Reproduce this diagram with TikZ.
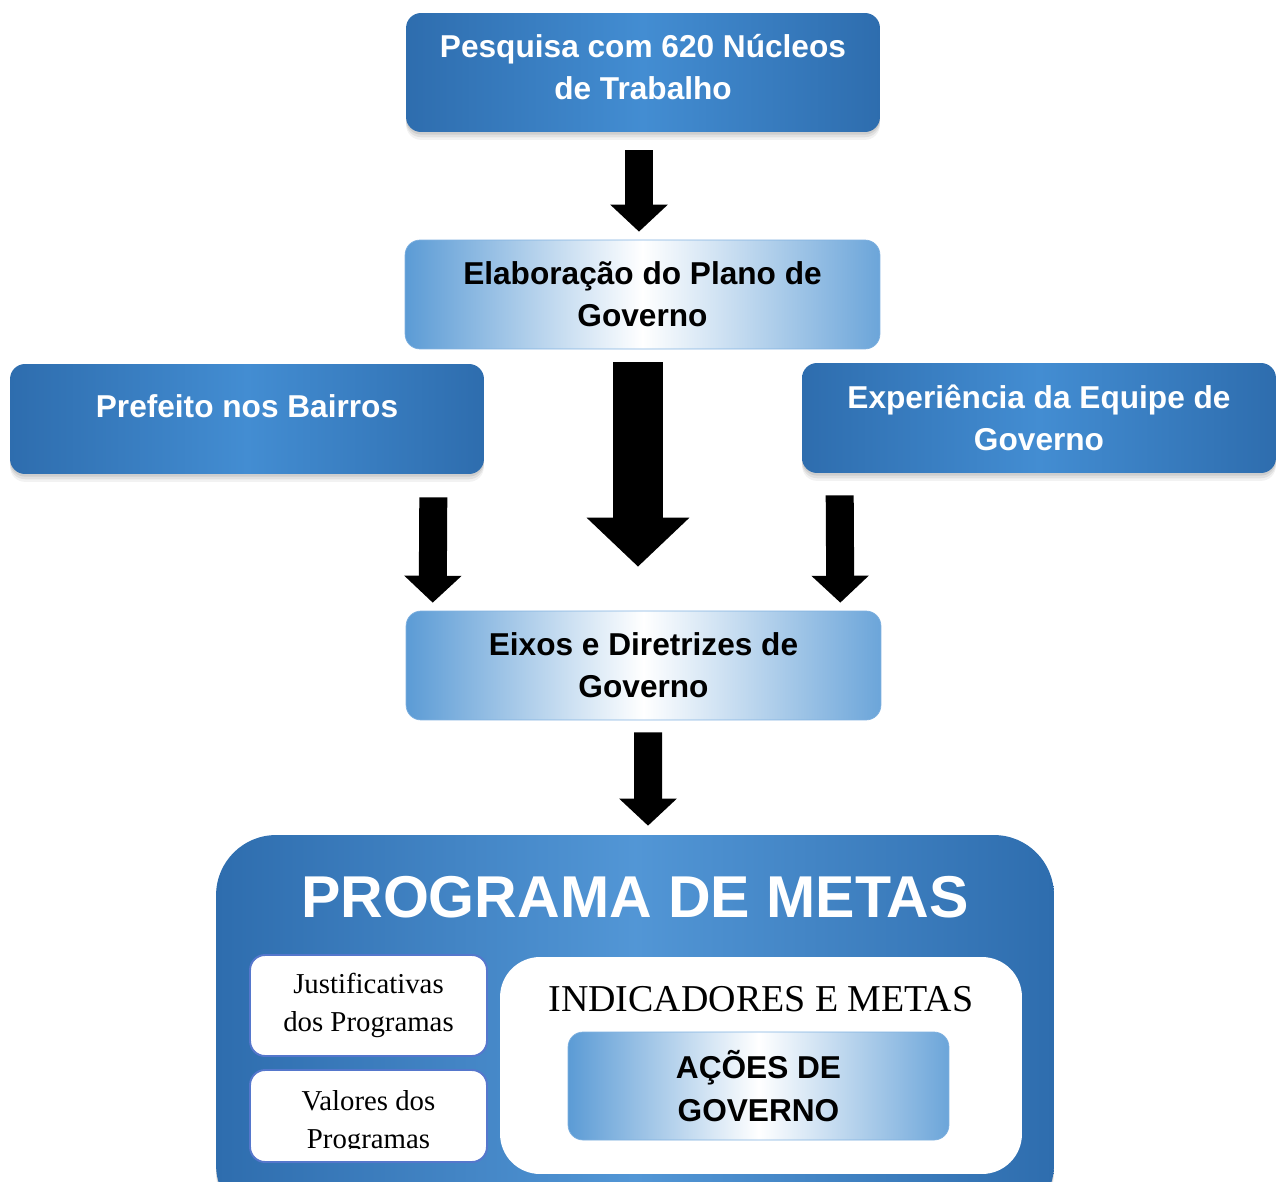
\documentclass[tikz,border=0pt]{standalone}
\usepackage{fontspec}
\setmainfont{Liberation Serif}
\setsansfont{Liberation Sans}
\usetikzlibrary{positioning}
\usetikzlibrary{arrows.meta,shadows,calc}

\definecolor{boxdark}{HTML}{2E6DAE}
\definecolor{boxmid}{HTML}{438DD2}
\definecolor{fadeblue}{HTML}{5B9BD5}
\definecolor{fadeline}{HTML}{7FB1E0}
\definecolor{smallline}{HTML}{5577CC}

\begin{document}
\begin{tikzpicture}[x=0.02cm,y=-0.02cm,
  softshadow/.style={drop shadow={shadow xshift=0pt, shadow yshift=-4.5pt, opacity=.1},
    drop shadow={shadow xshift=0pt, shadow yshift=-3pt, opacity=.15},
    drop shadow={shadow xshift=0pt, shadow yshift=-1.5pt, opacity=.2}},
  bluebox/.style={rounded corners=0.3cm, left color=boxdark, right color=boxdark, middle color=boxmid,
    minimum width=9.48cm, minimum height=2.2cm, align=center, text=white,
    font=\sffamily\bfseries\fontsize{18pt}{24pt}\selectfont, softshadow},
  fadebox/.style={rounded corners=0.3cm, draw=fadeline, left color=fadeblue, right color=fadeblue!90, middle color=white,
    minimum width=9.5cm, minimum height=2.18cm, align=center,
    font=\sffamily\bfseries\fontsize{18pt}{24pt}\selectfont},
  smallbox/.style={rounded corners=0.3cm, draw=smallline, line width=1.1pt, fill=white,
    minimum width=4.74cm, align=center, font=\fontsize{16.4pt}{21.6pt}\selectfont},
  blockarrow/.style={line width=0.56cm, -{Triangle[length=0.54cm,width=1.12cm]}},
  bigarrow/.style={line width=1cm, -{Triangle[length=0.98cm,width=2cm]}}]

\useasboundingbox (0,0) rectangle (1277,1182);

\node[bluebox, minimum height=2.38cm, text depth=6pt] (pesquisa) at (643,72.5) {Pesquisa com 620 Núcleos\\de Trabalho};
\node[fadebox] (plano) at (642.5,294.5) {Elaboração do Plano de\\Governo};
\node[bluebox, text depth=15pt] (bairros) at (247,419) {Prefeito nos Bairros};
\node[bluebox] (equipe) at (1039,418) {Experiência da Equipe de\\Governo};
\node[fadebox] (eixos) at (643.5,665.5) {Eixos e Diretrizes de\\Governo};

% bottom block
\node[rounded corners=1.2cm, left color=boxdark, right color=boxdark, middle color=boxmid!92,
  minimum width=16.76cm, minimum height=7.8cm, softshadow] (programa) at (635,1030) {};
\node[font=\sffamily\bfseries\fontsize{33.6pt}{36pt}\selectfont, text=white] (titulo) at (635,897) {PROGRAMA DE METAS};
\node[smallbox, minimum height=2.02cm] (justif) at (368.5,1005.5) {Justificativas\\dos Programas};
\node[smallbox, minimum height=1.84cm] (valores) at (368.5,1116) {};
\begin{scope}
\clip (valores.north west) rectangle ($(valores.south east)+(0,-14)$);
\node[align=center, font=\fontsize{16.4pt}{21.6pt}\selectfont] (valtxt) at (368.5,1123) {Valores dos\\Programas};
\end{scope}
\node[rounded corners=0.8cm, fill=white, minimum width=10.44cm, minimum height=4.34cm] (indic) at (761,1065.5) {};
\node[font=\fontsize{21.6pt}{24pt}\selectfont] (indtit) at (761,999) {INDICADORES E METAS};
\node[fadebox, minimum width=7.62cm, minimum height=2.16cm] (acoes) at (758.5,1086) {AÇÕES DE\\GOVERNO};

% arrows
\draw[blockarrow] ($(pesquisa.south)+(-4,18)$) -- ($(plano.north)+(-3.5,-8)$);
\draw[bigarrow] ($(plano.south)+(-4.5,13)$) -- ($(eixos.north)+(-5.5,-44)$);
\draw[blockarrow] ($(bairros.south east)+(-51,23)$) -- ($(eixos.north west)+(27,-8)$);
\draw[blockarrow] ($(equipe.south west)+(38,22)$) -- ($(eixos.north east)+(-41,-8)$);
\draw[blockarrow] ($(eixos.south)+(4.5,12)$) -- ($(programa.north)+(13,-9)$);
\end{tikzpicture}
\end{document}
